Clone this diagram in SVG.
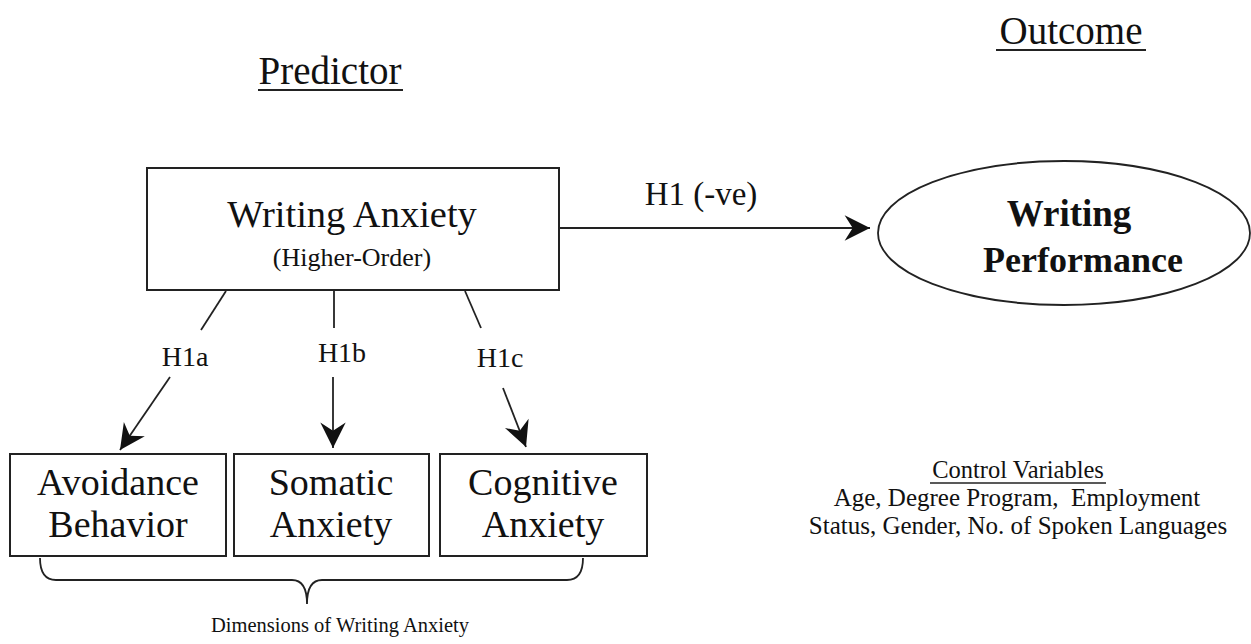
<svg xmlns="http://www.w3.org/2000/svg" width="1251" height="644" viewBox="0 0 1251 644">
<style>
text{font-family:"Liberation Serif","Times New Roman",serif;fill:#111;}
.box{fill:#fff;stroke:#222;stroke-width:2;}
.ln{stroke:#222;stroke-width:1.8;fill:none;}
.ul{stroke:#222;stroke-width:2;}
</style>
<defs>
<marker id="ah" markerUnits="userSpaceOnUse" markerWidth="30" markerHeight="30" viewBox="-24 -12 26 24" refX="0" refY="0" orient="auto">
<path d="M0,0 L-22,-11 L-15,0 L-22,11 Z" fill="#111"/>
</marker>
</defs>
<rect width="1251" height="644" fill="#fff"/>
<g id="title-predictor">
<text x="330" y="84" font-size="39" text-anchor="middle">Predictor</text>
<line class="ul" x1="258" y1="90" x2="403" y2="90"/>
</g>
<g id="title-outcome">
<text x="1071" y="44" font-size="39" text-anchor="middle">Outcome</text>
<line class="ul" x1="996" y1="50" x2="1146" y2="50"/>
</g>
<g id="node-writing-anxiety">
<rect class="box" x="147" y="168" width="412" height="122"/>
<text x="352" y="227" font-size="38.5" text-anchor="middle">Writing Anxiety</text>
<text x="352" y="266" font-size="26" text-anchor="middle">(Higher-Order)</text>
</g>
<g id="node-writing-performance">
<ellipse cx="1064" cy="233" rx="186" ry="72" fill="#fff" stroke="#222" stroke-width="1.8"/>
<text x="1069" y="226" font-size="37" font-weight="bold" text-anchor="middle">Writing</text>
<text x="1083" y="272" font-size="36" font-weight="bold" text-anchor="middle">Performance</text>
</g>
<g id="node-avoidance">
<rect class="box" x="10" y="454" width="216" height="102"/>
<text x="118" y="495" font-size="38" text-anchor="middle">Avoidance</text>
<text x="118" y="537" font-size="38" text-anchor="middle">Behavior</text>
</g>
<g id="node-somatic">
<rect class="box" x="234" y="454" width="195" height="102"/>
<text x="331" y="495" font-size="38" text-anchor="middle">Somatic</text>
<text x="331" y="537" font-size="38" text-anchor="middle">Anxiety</text>
</g>
<g id="node-cognitive">
<rect class="box" x="440" y="454" width="207" height="102"/>
<text x="543" y="495" font-size="38" text-anchor="middle">Cognitive</text>
<text x="543" y="537" font-size="38" text-anchor="middle">Anxiety</text>
</g>
<g id="connectors">
<line class="ln" x1="560" y1="228" x2="870" y2="228" marker-end="url(#ah)"/>
<text x="701" y="205" font-size="33" text-anchor="middle">H1 (-ve)</text>
<line class="ln" x1="226" y1="291" x2="201" y2="330"/>
<line class="ln" x1="170" y1="377" x2="120" y2="450" marker-end="url(#ah)"/>
<text x="185" y="366" font-size="28" text-anchor="middle">H1a</text>
<line class="ln" x1="334" y1="291" x2="334" y2="328"/>
<line class="ln" x1="333" y1="377" x2="333" y2="448" marker-end="url(#ah)"/>
<text x="342" y="362" font-size="28" text-anchor="middle">H1b</text>
<line class="ln" x1="465" y1="291" x2="481" y2="328"/>
<line class="ln" x1="503" y1="388" x2="526" y2="447" marker-end="url(#ah)"/>
<text x="500" y="367" font-size="28" text-anchor="middle">H1c</text>
</g>
<g id="brace">
<path class="ln" d="M40,558 Q40,580 56,580 L292,580 Q307,580 307,604 Q307,580 322,580 L567,580 Q583,580 583,558"/>
<text x="340" y="632" font-size="20.5" text-anchor="middle">Dimensions of Writing Anxiety</text>
</g>
<g id="control-variables">
<text x="1018" y="478" font-size="24.5" text-anchor="middle">Control Variables</text>
<line x1="930" y1="483" x2="1106" y2="483" stroke="#222" stroke-width="1.5"/>
<text x="1017" y="506" font-size="25" text-anchor="middle" xml:space="preserve">Age, Degree Program,  Employment</text>
<text x="1018" y="534" font-size="25" text-anchor="middle">Status, Gender, No. of Spoken Languages</text>
</g>
</svg>
